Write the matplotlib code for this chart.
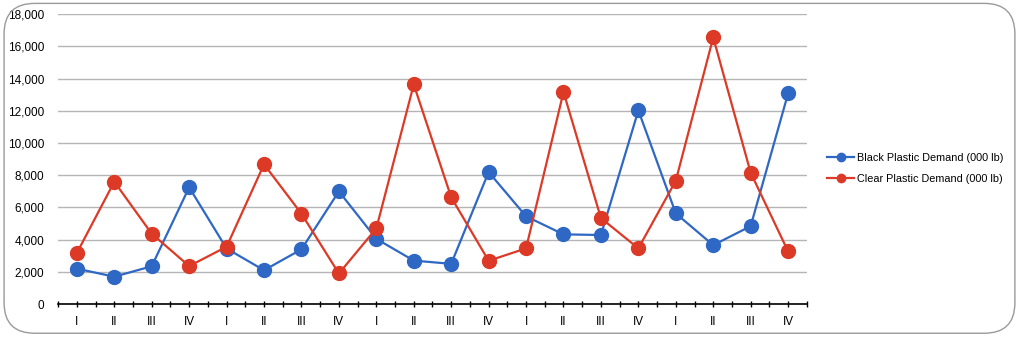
import matplotlib.pyplot as plt
from matplotlib.patches import FancyBboxPatch
from matplotlib.ticker import FuncFormatter, MultipleLocator

# 四半期ラベル (5年分)
quarters = ['I', 'II', 'III', 'IV'] * 5

# 需要データ (000 lb)
black_demand = [2200, 1700, 2350, 7250, 3450, 2100, 3400, 7000,
                4050, 2700, 2500, 8200, 5450, 4330, 4290, 12030,
                5630, 3660, 4840, 13080]
clear_demand = [3170, 7600, 4370, 2360, 3560, 8680, 5610, 1900,
                4700, 13640, 6630, 2690, 3460, 13170, 5340, 3460,
                7660, 16560, 8160, 3270]

blue = '#2F68C4'
red = '#DC3A27'

plt.rcParams['font.family'] = ['Liberation Sans', 'DejaVu Sans']

fig = plt.figure(figsize=(10.2, 3.39), dpi=100)

# 外枠 (角丸)
frame = FancyBboxPatch((0.004, 0.017), 0.991, 0.973,
                       boxstyle='round,pad=0,rounding_size=0.03',
                       transform=fig.transFigure, fill=False,
                       edgecolor='#9a9a9a', linewidth=1.0,
                       mutation_aspect=3.0)
fig.patches.append(frame)

ax = fig.add_axes([0.057, 0.103, 0.734, 0.855])

x = list(range(len(quarters)))
ax.plot(x, black_demand, color=blue, linewidth=1.6, marker='o',
        markersize=10, label='Black Plastic Demand (000 lb)', zorder=3)
ax.plot(x, clear_demand, color=red, linewidth=1.6, marker='o',
        markersize=10, label='Clear Plastic Demand (000 lb)', zorder=3)

ax.set_xlim(-0.5, len(quarters) - 0.5)
ax.set_ylim(0, 18000)
ax.yaxis.set_major_locator(MultipleLocator(2000))
ax.yaxis.set_major_formatter(FuncFormatter(lambda v, p: '{:,.0f}'.format(v)))
ax.grid(axis='y', color='#b5b5b5', linewidth=1.0)
ax.set_axisbelow(True)

ax.set_xticks(x)
ax.set_xticklabels(quarters)
ax.set_xticks([i - 0.5 for i in range(len(quarters) + 1)], minor=True)
ax.tick_params(axis='x', which='both', direction='inout', length=5,
               width=1.0, color='black', labelsize=8.5, pad=6)
ax.tick_params(axis='y', length=0, labelsize=8.5, pad=10)

for s in ['top', 'right', 'left']:
    ax.spines[s].set_visible(False)
ax.spines['bottom'].set_linewidth(1.2)
ax.spines['bottom'].set_zorder(4)

leg = fig.legend(loc='center left', bbox_to_anchor=(0.811, 0.503),
                 frameon=False, fontsize=7.8, markerscale=0.6,
                 handlelength=2.5, handletextpad=0.25, labelspacing=1.0,
                 borderpad=0, borderaxespad=0)

fig.savefig('out.png', dpi=100)
